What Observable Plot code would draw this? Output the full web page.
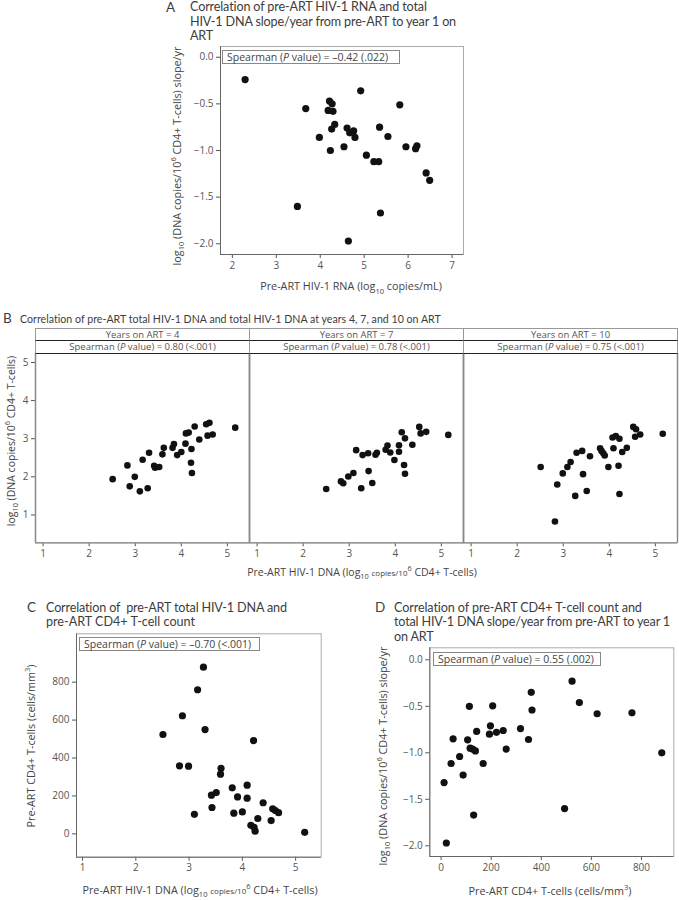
<!DOCTYPE html>
<html><head><meta charset="utf-8">
<script src="https://cdn.jsdelivr.net/npm/d3@7"></script>
<script src="https://cdn.jsdelivr.net/npm/@observablehq/plot@0.6"></script>
<style>
body{margin:0;background:#fff;}
#root{position:relative;width:679px;height:900px;overflow:hidden;font-family:"Open Sans",Lato,sans-serif;color:#444;}
.abs{position:absolute;white-space:nowrap;}
.rot{transform:translate(-50%,-50%) rotate(-90deg);}
.ctr{transform:translate(-50%,-50%);}
.ttl{font-family:Lato,"Open Sans",sans-serif;font-size:12.6px;line-height:14px;height:14px;color:#3d3d3d;}
.box{position:absolute;border:1px solid #888;font-size:10.5px;line-height:12px;padding:0 4px;box-sizing:border-box;height:14px;white-space:nowrap;background:#fff;}
.hdr{position:absolute;box-sizing:border-box;text-align:center;font-size:9.5px;color:#555;white-space:nowrap;}
sub,sup{font-size:70%;}
</style></head>
<body><div id="root"></div>
<script>
// Panel A: pre-ART RNA vs DNA slope/yr
const rnaA   = [2.29,4.92,3.67,4.21,4.27,4.18,4.29,5.81,4.33,4.26,4.61,4.76,4.67,4.79,5.35,5.54,3.98,4.54,4.23,5.95,6.20,6.17,5.05,5.22,5.33,6.41,6.49,3.48,5.37,4.64];
const slopeA = [-0.24,-0.36,-0.55,-0.47,-0.50,-0.57,-0.58,-0.51,-0.72,-0.77,-0.76,-0.79,-0.81,-0.86,-0.75,-0.85,-0.86,-0.96,-1.00,-0.96,-0.95,-0.98,-1.05,-1.12,-1.12,-1.24,-1.32,-1.60,-1.67,-1.97];
// Panel B: pre-ART DNA vs DNA at years 4, 7, 10
const preB4 = [2.51,2.83,2.88,2.99,3.10,3.27,3.16,3.30,3.41,3.43,3.52,3.59,3.62,3.81,3.84,3.91,4.00,4.09,4.10,4.16,4.22,4.21,4.23,4.29,4.39,4.54,4.61,4.57,4.68,5.17];
const dnaB4 = [1.94,2.30,1.75,2.00,1.62,1.70,2.45,2.63,2.29,2.24,2.26,2.59,2.76,2.76,2.86,2.57,2.65,2.87,3.14,3.16,2.73,2.37,2.10,3.32,2.98,3.38,3.42,3.08,3.11,3.29];
const preB7 = [2.50,2.82,2.87,2.98,3.09,3.15,3.26,3.29,3.41,3.42,3.50,3.57,3.60,3.79,3.83,3.89,3.98,4.08,4.08,4.14,4.19,4.21,4.21,4.37,4.52,4.55,4.67,5.15];
const dnaB7 = [1.68,1.88,1.83,2.01,2.10,2.70,1.70,2.57,2.62,2.15,1.84,2.58,2.63,2.71,2.82,2.64,2.44,2.83,2.66,3.17,2.31,2.08,3.01,2.84,3.31,3.14,3.18,3.10];
const preB10 = [2.51,2.87,2.99,3.09,3.16,3.26,3.29,3.41,3.43,3.51,3.58,3.80,3.83,3.87,3.90,3.98,4.09,4.07,4.14,4.22,4.20,4.22,4.28,4.38,4.52,4.58,4.56,4.67,5.16,2.82];
const dnaB10 = [2.26,1.80,2.09,2.26,2.39,1.50,2.63,2.68,2.07,1.63,2.54,2.75,2.68,2.62,2.56,2.26,2.75,3.03,3.07,3.00,2.29,1.55,2.65,2.76,3.31,3.25,3.05,3.11,3.13,0.83];
const yearsB = ["4","7","10"];
const rhoB = ["0.80","0.78","0.75"];
// Panel C: pre-ART DNA vs pre-ART CD4
const dnaC = [3.27,3.16,2.875,3.30,2.51,4.21,2.82,2.99,3.60,3.59,3.81,4.09,3.42,3.51,3.91,4.09,4.39,3.43,3.10,3.84,4.00,4.57,4.62,4.68,4.29,4.54,4.16,4.22,4.24,5.17];
const cd4C = [879,760,623,550,524,492,359,357,346,315,243,257,204,218,195,188,164,139,103,109,116,132,123,112,81,70,45,35,14,8];
// Panel D: pre-ART CD4 vs DNA slope/yr
const cd4D   = [523,360,552,113,206,363,623,762,197,221,248,193,317,142,349,48,106,116,126,137,260,881,74,40,168,88,12,130,493,21];
const slopeD = [-0.23,-0.35,-0.46,-0.50,-0.495,-0.54,-0.58,-0.57,-0.71,-0.78,-0.76,-0.80,-0.74,-0.77,-0.857,-0.85,-0.86,-0.95,-0.96,-0.98,-0.96,-1.00,-1.04,-1.115,-1.115,-1.24,-1.32,-1.67,-1.60,-1.97];

const root = document.getElementById("root");
function place(el, left, top){ el.style.position="absolute"; el.style.left=left+"px"; el.style.top=top+"px"; root.appendChild(el); return el; }
function html(str, left, top, cls, css){ const d=document.createElement("div"); d.className="abs "+(cls||""); d.innerHTML=str; if(css) d.style.cssText+=css; return place(d,left,top); }
// title lines: [text, target width in px] — letter-spacing stretched to match the reference's wide face
const fitGroups = [];
function titleLines(lines, left, firstCenter, step, css){
  const group = [];
  lines.forEach(([t, target], i) => {
    const el = html(t, left, firstCenter - 7 + i*step, "ttl", css);
    group.push([el, target]);
  });
  fitGroups.push(group);
}
function fitAll(){
  fitGroups.forEach(group => {
    let ls = 0;
    group.forEach(([el, target]) => {
      if (target) {
        el.style.letterSpacing = "0px";
        const w = el.getBoundingClientRect().width;
        ls = Math.max(-0.3, Math.min(1.5, (target - w) / el.textContent.length));
      }
      el.style.letterSpacing = ls + "px";
    });
  });
}
const FONT = '"Open Sans",Lato,sans-serif';
const fmt1 = d3.format(".1f");
const baseStyle = {background:"transparent", fontFamily:FONT, fontSize:"10px", color:"#555", overflow:"visible"};

function scatter({xs, ys, xDomain, yDomain, xTicks, yTicks, xFmt, yFmt, width, height, ml, mr, mt, mb}){
  const data = xs.map((x,i)=>({x, y: ys[i]}));
  return Plot.plot({
    width, height, marginLeft: ml, marginRight: mr, marginTop: mt, marginBottom: mb,
    style: baseStyle,
    x: {domain: xDomain, ticks: xTicks, tickFormat: xFmt, tickSize: 4, tickPadding: 3, label: null},
    y: {domain: yDomain, ticks: yTicks, tickFormat: yFmt, tickSize: 4, tickPadding: 3, label: null},
    marks: [
      Plot.frame({stroke: "#aaa"}),
      Plot.ruleX([xDomain[0]], {stroke: "#666"}),
      Plot.ruleY([yDomain[0]], {stroke: "#666"}),
      Plot.dot(data, {x: "x", y: "y", r: 3.6, fill: "#111", stroke: "none"})
    ]
  });
}

// ---------- Panel A ----------
const pA = scatter({xs: rnaA, ys: slopeA, xDomain: [1.73, 7.26], yDomain: [-2.115, 0.115],
  xTicks: [2,3,4,5,6,7], yTicks: [0,-0.5,-1,-1.5,-2], xFmt: d3.format("d"), yFmt: fmt1,
  width: 330, height: 240, ml: 70, mr: 17, mt: 6, mb: 26});
place(pA, 150, 40);
html("A", 166, 0, "ttl", "font-size:13.5px;");
titleLines([["Correlation of pre-ART HIV-1 RNA and total", 237], ["HIV-1 DNA slope/year from pre-ART to year 1 on", 266], ["ART"]], 190, 7, 14.5);
html("Spearman (<i>P</i> value) = –0.42 (.022)", 222, 50, "box", "width:178px;height:14px;");
html("log<sub>10</sub> (DNA copies/10<sup>6</sup> CD4+ T-cells) slope/yr", 177, 156, "rot", "font-size:10.8px;");
html("Pre-ART HIV-1 RNA (log<sub>10</sub> copies/mL)", 351, 287, "ctr", "font-size:10.8px;");

// ---------- Panel B ----------
const rowsB = [];
[[preB4,dnaB4],[preB7,dnaB7],[preB10,dnaB10]].forEach(([xs,ys],k)=>xs.forEach((x,i)=>rowsB.push({year: yearsB[k], x, y: ys[i]})));
const xDomB = [0.835, 5.48], yDomB = [0.27, 5.235];
const pB = Plot.plot({
  width: 679, height: 214, marginLeft: 35, marginRight: 2, marginTop: 5, marginBottom: 19.7,
  style: baseStyle,
  fx: {domain: yearsB, padding: 0, axis: null},
  x: {domain: xDomB, ticks: [1,2,3,4,5], tickFormat: d3.format("d"), tickSize: 4, tickPadding: 3, label: null},
  y: {domain: yDomB, ticks: [1,2,3,4,5], tickFormat: d3.format("d"), tickSize: 4, tickPadding: 3, label: null},
  marks: [
    Plot.frame({stroke: "#aaa"}),
    Plot.ruleX([xDomB[0], xDomB[1]], {stroke: "#888", strokeWidth: 1.5}),
    Plot.ruleY([yDomB[0]], {stroke: "#888", strokeWidth: 1.2}),
    Plot.dot(rowsB, {fx: "year", x: "x", y: "y", r: 3.3, fill: "#111", stroke: "none"})
  ]
});
place(pB, 0, 348);
html("B", 3, 311, "ttl", "font-size:13.5px;");
titleLines([["Correlation of pre-ART total HIV-1 DNA and total HIV-1 DNA at years 4, 7, and 10 on ART", 421]], 20, 319, 14, "font-size:10.6px;");
const facetW = (679 - 35 - 2) / 3;
yearsB.forEach((yr, i) => {
  const l = 35 + facetW * i;
  const h1 = document.createElement("div"); h1.className = "hdr";
  h1.style.cssText += `width:${facetW+1}px;height:13px;border:1px solid #999;border-bottom:none;line-height:12px;`;
  h1.textContent = `Years on ART = ${yr}`; place(h1, l, 328);
  const h2 = document.createElement("div"); h2.className = "hdr";
  h2.style.cssText += `width:${facetW+1}px;height:14px;border-left:1px solid #999;border-right:1px solid #999;border-top:1.5px solid #222;border-bottom:1.5px solid #222;line-height:11px;`;
  h2.innerHTML = `Spearman (<i>P</i> value) = ${rhoB[i]} (&lt;.001)`; place(h2, l, 340);
});
html("log<sub>10</sub> (DNA copies/10<sup>6</sup> CD4+ T-cells)", 11, 441, "rot", "font-size:10.5px;");
html("Pre-ART HIV-1 DNA (log<sub>10</sub> <span style='font-size:8px'>copies/10</span><sup>6</sup> CD4+ T-cells)", 362, 572, "ctr", "font-size:10.5px;");

// ---------- Panel C ----------
const pC = scatter({xs: dnaC, ys: cd4C, xDomain: [0.887, 5.48], yDomain: [-123, 1055],
  xTicks: [1,2,3,4,5], yTicks: [0,200,400,600,800], xFmt: d3.format("d"), yFmt: d3.format("d"),
  width: 335, height: 252, ml: 76, mr: 14.3, mt: 5.3, mb: 23.3});
place(pC, 0, 628);
html("C", 27, 600, "ttl", "font-size:13.5px;");
titleLines([["Correlation of \u00a0pre-ART total HIV-1 DNA and", 241], ["pre-ART CD4+ T-cell count", 149]], 46, 607.7, 14.5);
html("Spearman (<i>P</i> value) = –0.70 (&lt;.001)", 79, 637, "box", "width:181px;");
html("Pre-ART CD4+ T-cells (cells/mm<sup>3</sup>)", 30, 746, "rot", "font-size:10.8px;");
html("Pre-ART HIV-1 DNA (log<sub>10</sub> <span style='font-size:8px'>copies/10</span><sup>6</sup> CD4+ T-cells)", 200, 890, "ctr", "font-size:10.8px;");

// ---------- Panel D ----------
const pD = scatter({xs: cd4D, ys: slopeD, xDomain: [-45, 929], yDomain: [-2.115, 0.129],
  xTicks: [0,200,400,600,800], yTicks: [0,-0.5,-1,-1.5,-2], xFmt: d3.format("d"), yFmt: fmt1,
  width: 339, height: 238, ml: 89.3, mr: 5.7, mt: 5.3, mb: 24});
place(pD, 340, 642);
html("D", 375, 600, "ttl", "font-size:13.5px;");
titleLines([["Correlation of pre-ART CD4+ T-cell count and", 248], ["total HIV-1 DNA slope/year from pre-ART to year 1", 276], ["on ART"]], 394, 607.5, 14.8);
html("Spearman (<i>P</i> value) = 0.55 (.002)", 433, 652, "box", "width:168px;");
html("log<sub>10</sub> (DNA copies/10<sup>6</sup> CD4+ T-cells) slope/yr", 383, 756, "rot", "font-size:10.8px;");
html("Pre-ART CD4+ T-cells (cells/mm<sup>3</sup>)", 550, 890, "ctr", "font-size:10.8px;");

fitAll();
if (document.fonts && document.fonts.ready) document.fonts.ready.then(fitAll);
window.addEventListener("load", fitAll);
</script></body></html>
